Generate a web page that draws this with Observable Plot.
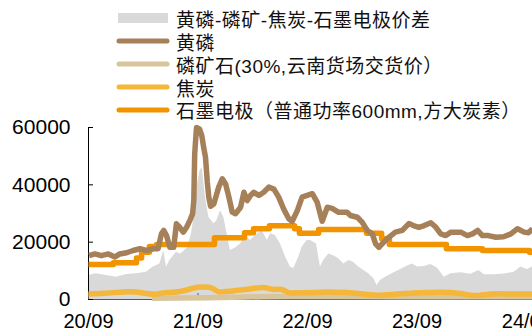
<!DOCTYPE html>
<html>
<head>
<meta charset="utf-8">
<script src="https://cdn.jsdelivr.net/npm/d3@7"></script>
<script src="https://cdn.jsdelivr.net/npm/@observablehq/plot@0.6"></script>
<style>
  html, body { margin: 0; padding: 0; background: #fff; }
  #wrap { position: relative; width: 532px; height: 332px; overflow: hidden;
          font-family: "Liberation Sans", "Noto Sans CJK SC", sans-serif; }
  #legend { position: relative; height: 112px; z-index: 1; }
  .row { position: absolute; left: 116px; height: 22px; display: flex; align-items: center;
         white-space: nowrap; font-size: 19px; letter-spacing: 0.5px; color: #111; }
  .row svg { flex: none; margin-right: 6px; }
  #chart svg { display: block; }
</style>
</head>
<body>
<div id="wrap">
  <div id="legend"></div>
  <div id="chart"></div>
</div>
<script>
// Series names (legend order)
const seriesNames = [
  "黄磷-磷矿-焦炭-石墨电极价差",
  "黄磷",
  "磷矿石(30%,云南货场交货价）",
  "焦炭",
  "石墨电极（普通功率600mm,方大炭素）"
];
const seriesColors = ["#D9D9D9", "#A58058", "#D8C59C", "#F4B73A", "#F29400"];

// Axis ticks
const yTicks = [0, 20000, 40000, 60000];
const xTickDates = ["2020-09-01", "2021-09-01", "2022-09-01", "2023-09-01", "2024-09-01"];
const xDomain = ["2020-09-01", "2024-09-20"];

// Price spread (yuan/t)
const spread = [
  ["2020-09-01", 8400], ["2020-09-26", 9000], ["2020-10-31", 8400], ["2020-12-03", 7800],
  ["2021-01-06", 8700], ["2021-02-08", 9000], ["2021-03-13", 9500], ["2021-04-05", 11300],
  ["2021-04-27", 12400], ["2021-05-10", 17100], ["2021-05-19", 11300], ["2021-05-30", 13600],
  ["2021-06-12", 15300], ["2021-06-21", 16500], ["2021-07-05", 15900], ["2021-07-19", 17100],
  ["2021-07-30", 18200], ["2021-08-10", 22900], ["2021-08-21", 29900], ["2021-08-30", 40000],
  ["2021-09-08", 45000], ["2021-09-15", 46000], ["2021-09-26", 35700], ["2021-10-07", 28700],
  ["2021-10-24", 26400], ["2021-11-03", 27500], ["2021-11-15", 31000], ["2021-11-26", 28700],
  ["2021-12-07", 22900], ["2021-12-18", 17100], ["2022-01-04", 18000], ["2022-01-21", 19400],
  ["2022-02-06", 22300], ["2022-02-23", 20600], ["2022-03-12", 22300], ["2022-04-03", 24100],
  ["2022-04-20", 20600], ["2022-05-01", 22900], ["2022-05-17", 22300], ["2022-06-03", 19400],
  ["2022-06-20", 14800], ["2022-07-06", 11300], ["2022-07-17", 10700], ["2022-08-03", 14800],
  ["2022-08-14", 18200], ["2022-08-31", 20600], ["2022-09-11", 20600], ["2022-10-01", 19400],
  ["2022-10-14", 11300], ["2022-10-25", 13600], ["2022-11-11", 15900], ["2022-11-27", 15300],
  ["2022-12-14", 14200], ["2022-12-31", 12400], ["2023-01-17", 13600], ["2023-02-01", 13000],
  ["2023-02-19", 11300], ["2023-03-08", 10100], ["2023-03-24", 9000], ["2023-04-10", 7200],
  ["2023-04-21", 4900], ["2023-05-02", 6600], ["2023-05-19", 7800], ["2023-06-10", 9000],
  ["2023-07-02", 10100], ["2023-07-25", 11300], ["2023-08-16", 12400], ["2023-09-03", 11300],
  ["2023-09-25", 11500], ["2023-10-17", 12200], ["2023-11-08", 11000], ["2023-12-01", 7800],
  ["2023-12-23", 9000], ["2024-01-25", 9300], ["2024-02-27", 8800], ["2024-03-26", 10100],
  ["2024-04-12", 8600], ["2024-05-15", 8600], ["2024-06-18", 8900], ["2024-07-21", 9500],
  ["2024-08-12", 11300], ["2024-09-03", 10500], ["2024-09-20", 11300]
];

// Yellow phosphorus (yuan/t)
const phosphorus = [
  ["2020-09-03", 15300], ["2020-09-22", 15900], ["2020-10-14", 15300], ["2020-11-06", 15900],
  ["2020-11-28", 14800], ["2020-12-14", 15900], ["2021-01-06", 16300], ["2021-01-28", 17100],
  ["2021-02-19", 17700], ["2021-03-13", 17100], ["2021-04-05", 17700], ["2021-04-21", 17700],
  ["2021-05-02", 22900], ["2021-05-10", 24100], ["2021-05-19", 22300], ["2021-05-30", 18200],
  ["2021-06-12", 18200], ["2021-06-21", 26400], ["2021-07-02", 25200], ["2021-07-14", 23500],
  ["2021-07-25", 25200], ["2021-08-05", 27600], ["2021-08-14", 29900], ["2021-08-18", 34500],
  ["2021-08-21", 50800], ["2021-08-27", 60000], ["2021-09-06", 59500], ["2021-09-14", 57000],
  ["2021-09-20", 53000], ["2021-09-26", 49600], ["2021-10-02", 41000], ["2021-10-07", 35700],
  ["2021-10-13", 32500], ["2021-10-24", 33400], ["2021-11-09", 39200], ["2021-11-21", 42100],
  ["2021-12-02", 40300], ["2021-12-13", 35700], ["2021-12-24", 30500], ["2022-01-04", 29900],
  ["2022-01-21", 32200], ["2022-02-01", 37400], ["2022-02-12", 34500], ["2022-02-23", 36300],
  ["2022-03-06", 37400], ["2022-03-23", 36300], ["2022-04-08", 37400], ["2022-04-25", 39200],
  ["2022-05-12", 38500], ["2022-05-28", 35700], ["2022-06-14", 31500], ["2022-07-01", 28100],
  ["2022-07-12", 27300], ["2022-07-29", 31000], ["2022-08-14", 35700], ["2022-08-31", 36300],
  ["2022-09-17", 36900], ["2022-10-03", 34000], ["2022-10-20", 27300], ["2022-11-06", 32200],
  ["2022-11-22", 31800], ["2022-12-14", 30400], ["2023-01-11", 30400], ["2023-01-22", 29300],
  ["2023-02-14", 28700], ["2023-03-02", 27000], ["2023-03-19", 24100], ["2023-04-05", 22900],
  ["2023-04-16", 19400], ["2023-04-27", 18200], ["2023-05-13", 20000], ["2023-05-30", 21700],
  ["2023-06-21", 23500], ["2023-07-14", 24100], ["2023-08-05", 26500], ["2023-08-20", 25800],
  ["2023-09-07", 25200], ["2023-09-25", 25800], ["2023-10-17", 26800], ["2023-11-03", 25200],
  ["2023-11-19", 22900], ["2023-12-06", 22300], ["2023-12-23", 23500], ["2024-01-25", 23500],
  ["2024-02-16", 22300], ["2024-03-04", 22900], ["2024-03-21", 24100], ["2024-04-06", 22300],
  ["2024-04-26", 22300], ["2024-05-21", 21700], ["2024-06-15", 21900], ["2024-07-10", 22900],
  ["2024-08-01", 24700], ["2024-08-23", 23500], ["2024-09-07", 23300], ["2024-09-20", 24700]
];

// Phosphate rock, 30% grade (yuan/t)
const phosphateRock = [
  ["2021-04-01", 400], ["2021-07-01", 500], ["2021-10-01", 650], ["2022-01-01", 800],
  ["2022-04-01", 950], ["2022-07-01", 1050], ["2023-01-01", 1050], ["2023-07-01", 1000],
  ["2024-01-01", 1000], ["2024-09-20", 1000]
];

// Coke (yuan/t)
const coke = [
  ["2020-09-01", 1900], ["2020-10-11", 2100], ["2020-12-13", 2500], ["2021-01-19", 2700],
  ["2021-03-13", 2100], ["2021-04-06", 1800], ["2021-05-16", 2400], ["2021-06-11", 2500],
  ["2021-07-25", 3300], ["2021-09-06", 4400], ["2021-10-09", 4300], ["2021-11-12", 2600],
  ["2021-12-25", 3000], ["2022-02-13", 3600], ["2022-04-07", 4200], ["2022-05-11", 3500],
  ["2022-06-03", 3600], ["2022-07-06", 2300], ["2022-09-21", 2400], ["2022-11-07", 2600],
  ["2023-01-12", 2400], ["2023-04-22", 1500], ["2023-07-08", 2000], ["2023-10-06", 2400],
  ["2023-11-18", 2500], ["2024-01-24", 2100], ["2024-03-07", 1400], ["2024-05-26", 2000],
  ["2024-07-19", 1900], ["2024-09-20", 1900]
];

// Graphite electrode, regular power 600mm (yuan/t)
const electrode = [
  ["2020-09-01", 12200], ["2020-11-23", 12800], ["2021-02-08", 14500], ["2021-02-25", 16500],
  ["2021-03-23", 18500], ["2021-04-16", 19200], ["2021-10-26", 21500], ["2022-02-03", 23300],
  ["2022-03-05", 24700], ["2022-04-27", 25700], ["2022-07-20", 24700], ["2022-08-05", 23100],
  ["2022-10-08", 24400], ["2023-03-17", 23100], ["2023-05-06", 21200], ["2023-06-01", 19200],
  ["2023-12-08", 17700], ["2024-04-06", 17100], ["2024-09-10", 16500], ["2024-09-20", 16500]
];

const rows = (pairs) => pairs.map(([d, v]) => ({date: new Date(d), value: v}));

// Legend above the chart
const legend = document.getElementById("legend");
const rowCenters = [18, 41, 64, 87, 109.5];
seriesNames.forEach((name, i) => {
  const row = document.createElement("div");
  row.className = "row";
  row.style.top = (rowCenters[i] - 11) + "px";
  const sw = i === 0
    ? `<svg width="54" height="12"><rect x="2" y="1" width="50" height="10" fill="${seriesColors[i]}"/></svg>`
    : `<svg width="54" height="12"><line x1="3" x2="51" y1="6" y2="6" stroke="${seriesColors[i]}" stroke-width="5" stroke-linecap="round"/></svg>`;
  row.innerHTML = sw + `<span>${name}</span>`;
  legend.appendChild(row);
});

const lineOpts = (color) => ({x: "date", y: "value", stroke: color, strokeWidth: 5.5,
  strokeLinejoin: "round", strokeLinecap: "butt"});

const chart = Plot.plot({
  width: 532,
  height: 220,
  marginLeft: 88,
  marginRight: 0,
  marginTop: 15,
  marginBottom: 33,
  style: {fontFamily: "'Liberation Sans', Arial, sans-serif", fontSize: "21px", color: "#000", background: "transparent"},
  x: {type: "utc", domain: xDomain.map(d => new Date(d)), label: null},
  y: {domain: [0, 60000], label: null},
  marks: [
    Plot.areaY(rows(spread), {x: "date", y: "value", fill: seriesColors[0]}),
    Plot.ruleY([0], {stroke: "#595959", strokeWidth: 1}),
    Plot.ruleX([new Date(xDomain[0])], {stroke: "#000", strokeWidth: 1}),
    Plot.axisY(yTicks, {tickSize: -5, text: null, stroke: "#000"}),
    Plot.axisY(yTicks, {tickSize: 0, tickPadding: 18, tickFormat: d3.format("d"), fill: "#000"}),
    Plot.axisX(xTickDates.map(d => new Date(d)), {tickSize: -6, text: null, stroke: "#595959"}),
    Plot.axisX(xTickDates.map(d => new Date(d)), {tickSize: 0, tickPadding: 14, fontSize: 20,
      tickFormat: d3.utcFormat("%y/%m"), fill: "#000"}),
    Plot.lineY(rows(phosphateRock), lineOpts(seriesColors[2])),
    Plot.lineY(rows(coke), {...lineOpts(seriesColors[3]), curve: "monotone-x"}),
    Plot.lineY(rows(electrode), {...lineOpts(seriesColors[4]), curve: "step-after"}),
    Plot.lineY(rows(phosphorus), lineOpts(seriesColors[1]))
  ]
});
document.getElementById("chart").appendChild(chart);
</script>
</body>
</html>
